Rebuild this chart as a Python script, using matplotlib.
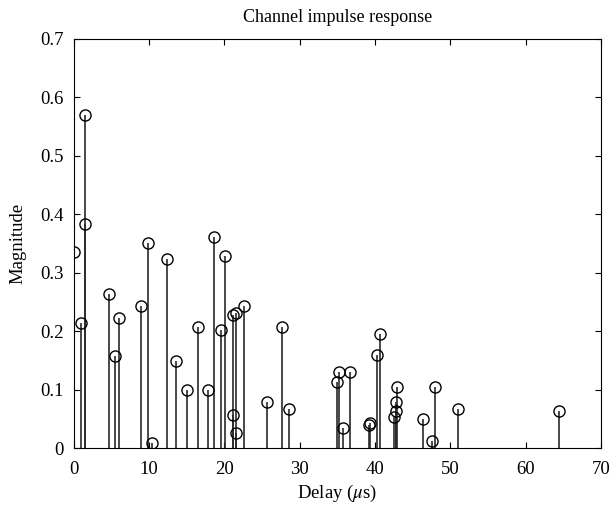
import matplotlib
matplotlib.use('Agg')
import matplotlib.pyplot as plt

# delay (us) and magnitude of each channel tap
delay = [0.04, 1.0, 1.5, 1.5, 4.69, 5.44, 6.0, 8.9, 9.87, 10.4,
         12.43, 13.6, 15.0, 16.5, 17.8, 18.6, 19.6, 20.1, 21.15, 21.15,
         21.5, 21.5, 22.6, 25.67, 27.7, 28.6, 34.9, 35.2, 35.7, 36.65,
         39.25, 39.4, 40.2, 40.7, 42.5, 42.8, 42.8, 42.9, 46.35, 47.6,
         48.0, 51.05, 64.45]
magnitude = [0.336, 0.215, 0.569, 0.384, 0.264, 0.158, 0.222, 0.244, 0.351, 0.0085,
             0.324, 0.150, 0.0997, 0.207, 0.0997, 0.361, 0.203, 0.328, 0.057, 0.228,
             0.231, 0.027, 0.243, 0.079, 0.207, 0.068, 0.114, 0.130, 0.035, 0.130,
             0.039, 0.044, 0.159, 0.195, 0.053, 0.064, 0.079, 0.105, 0.050, 0.012,
             0.104, 0.068, 0.063]

plt.rcParams['font.family'] = ['Liberation Serif', 'DejaVu Serif']
plt.rcParams['mathtext.fontset'] = 'stix'

fig = plt.figure(figsize=(6.11, 5.08), dpi=100)
ax = fig.add_axes([0.1206, 0.1175, 0.863, 0.806])

markers, stems, base = ax.stem(delay, magnitude, linefmt='k-', markerfmt='o', basefmt=' ')
plt.setp(stems, linewidth=1.2, color='#2a2a2a')
plt.setp(markers, markerfacecolor='none', markeredgecolor='black',
         markersize=8, markeredgewidth=1.0)

ax.set_xlim(0, 70)
ax.set_ylim(0, 0.7)
ax.set_xticks(range(0, 71, 10))
ax.set_yticks([0, 0.1, 0.2, 0.3, 0.4, 0.5, 0.6, 0.7])
ax.set_yticklabels(['0', '0.1', '0.2', '0.3', '0.4', '0.5', '0.6', '0.7'])
ax.tick_params(direction='in', top=True, right=True, length=4, labelsize=13.5)
ax.tick_params(axis='x', pad=9)
ax.tick_params(axis='y', pad=7)

ax.set_title('Channel impulse response', fontsize=13, pad=12)
ax.set_xlabel(r'Delay ($\mu$s)', fontsize=13.5, labelpad=4)
ax.set_ylabel('Magnitude', fontsize=13.5, labelpad=10)

fig.savefig('out.png', dpi=100)
